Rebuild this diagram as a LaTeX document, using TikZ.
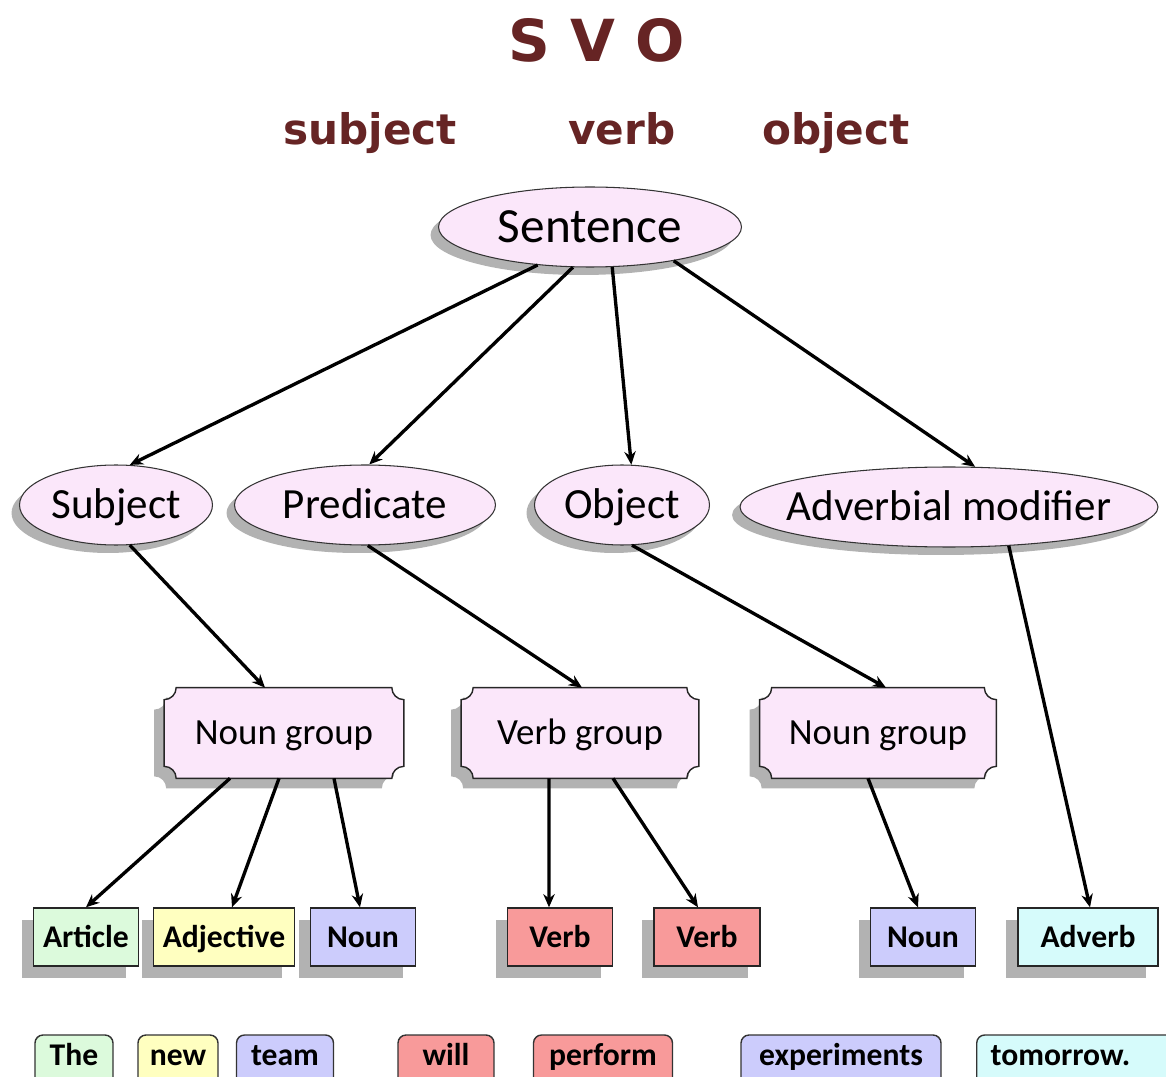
\documentclass[tikz,border=0pt]{standalone}
\usepackage{fontspec}
\setmainfont{Carlito}
\newfontfamily\svofont{DejaVu Sans}
\usetikzlibrary{arrows.meta,positioning,shapes.geometric,shadows,backgrounds}

\definecolor{titlered}{RGB}{102,36,36}
\definecolor{pinkfill}{RGB}{251,231,250}
\definecolor{shadowgray}{RGB}{178,178,178}
\definecolor{artgreen}{RGB}{220,250,220}
\definecolor{adjyellow}{RGB}{255,255,192}
\definecolor{nounblue}{RGB}{204,204,252}
\definecolor{verbred}{RGB}{248,154,154}
\definecolor{advcyan}{RGB}{214,251,251}

% frame of a group box with concave corners, shifted by (#2,#3)
\newcommand{\grouppath}[3]{%
  ([xshift=#2+0.24cm,yshift=#3]#1.north west) -- ([xshift=#2-0.24cm,yshift=#3]#1.north east)
  arc[start angle=180,end angle=270,radius=0.24cm]
  -- ([xshift=#2,yshift=#3+0.24cm]#1.south east)
  arc[start angle=90,end angle=180,radius=0.24cm]
  -- ([xshift=#2+0.24cm,yshift=#3]#1.south west)
  arc[start angle=0,end angle=90,radius=0.24cm]
  -- ([xshift=#2,yshift=#3-0.24cm]#1.north west)
  arc[start angle=270,end angle=360,radius=0.24cm] -- cycle}

\begin{document}
\begin{tikzpicture}[
    x=0.02cm, y=-0.02cm,
    title/.style = {text=titlered, anchor=base, font=\svofont\bfseries\fontsize{24}{28}\selectfont},
    ell/.style = {ellipse, draw=black!80, line width=0.6pt, fill=pinkfill, inner sep=0pt,
                  minimum height=1.6cm, text height=20pt, text depth=4.2pt,
                  font=\fontsize{24.5}{28}\selectfont,
                  drop shadow={shadow xshift=-0.16cm, shadow yshift=-0.16cm, fill=shadowgray, opacity=1}},
    grp/.style = {rectangle, inner sep=0pt, minimum height=1.8cm, text height=17pt, text depth=3.5pt,
                  font=\fontsize{21}{25}\selectfont},
    leaf/.style = {rectangle, draw=black!85, line width=0.8pt, inner sep=0pt,
                   minimum width=2.1cm, minimum height=1.16cm, text height=14pt, text depth=2.4pt,
                   font=\bfseries\fontsize{18}{22}\selectfont,
                   drop shadow={shadow xshift=-0.24cm, shadow yshift=-0.24cm, fill=shadowgray, opacity=1}},
    word/.style = {rectangle, rounded corners=0.16cm, draw=black!80, line width=0.8pt, inner sep=0pt,
                   minimum height=1.2cm, text height=13pt, text depth=13pt,
                   font=\bfseries\fontsize{18}{22}\selectfont},
    arrow/.style = {-{Stealth[length=7.5pt,width=6.5pt]}, line width=1.9pt}
]
\useasboundingbox (0,0) rectangle (1166,1077);

% Title
\node[title, font=\svofont\bfseries\fontsize{33}{38}\selectfont] (svo) at (597,62) {S V O};
\node[title] (tsubject) at (370,145) {subject};
\node[title] (tverb) at (622,145) {verb};
\node[title] (tobject) at (836,145) {object};

% Sentence level
\node[ell, minimum width=6.06cm, text height=22pt, text depth=4pt,
      font=\fontsize{28}{32}\selectfont] (sentence) at (590,227) {Sentence};

% Parts of the sentence
\node[ell, minimum width=3.86cm] (subject) at (116,505) {Subject};
\node[ell, minimum width=5.22cm] (predicate) at (365,505) {Predicate};
\node[ell, minimum width=3.5cm] (object) at (622,505) {Object};
\node[ell, minimum width=8.36cm] (advmod) at (949,507) {\makebox[0pt]{Adverbial modifier}};

% Groups
\node[grp, minimum width=4.78cm] (ng1) at (284,733) {Noun group};
\node[grp, minimum width=4.74cm] (vg) at (580,733) {Verb group};
\node[grp, minimum width=4.72cm] (ng2) at (878,733) {Noun group};

\begin{scope}[on background layer]
  \foreach \g in {ng1,vg,ng2} {
    \fill[shadowgray] \grouppath{\g}{-0.2cm}{-0.2cm};
    \filldraw[fill=pinkfill, draw=black!85, line width=0.8pt] \grouppath{\g}{0cm}{0cm};
  }
\end{scope}

% Word classes
\node[leaf, fill=artgreen] (article) at (86,937) {Article};
\node[leaf, fill=adjyellow, minimum width=2.82cm] (adjective) at (224,937) {Adjective};
\node[leaf, fill=nounblue] (noun1) at (363,937) {Noun};
\node[leaf, fill=verbred] (verb1) at (560,937) {Verb};
\node[leaf, fill=verbred, minimum width=2.12cm] (verb2) at (707,937) {Verb};
\node[leaf, fill=nounblue] (noun2) at (923,937) {Noun};
\node[leaf, fill=advcyan, minimum width=2.8cm] (adverb) at (1088,937) {Adverb};

% Words
\node[word, fill=artgreen, minimum width=1.56cm] (the) at (74,1065) {The};
\node[word, fill=adjyellow, minimum width=1.6cm] (new) at (178,1065) {new};
\node[word, fill=nounblue, minimum width=1.94cm] (team) at (285,1065) {team};
\node[word, fill=verbred, minimum width=1.92cm] (will) at (446,1065) {will};
\node[word, fill=verbred, minimum width=2.78cm] (perform) at (603,1065) {perform};
\node[word, fill=nounblue, minimum width=4cm] (experiments) at (841,1065) {experiments};
\node[word, fill=advcyan, anchor=west, inner xsep=0.28cm, text width=3.6cm, align=left] (tomorrow) at (976,1065) {tomorrow.};

% Arrows
\draw[arrow] (sentence.216) -- (subject.71);
\draw[arrow] (sentence.247) -- (predicate.84);
\draw[arrow] (sentence.299) -- (object.77);
\draw[arrow] (sentence.338) -- (advmod.57);

\draw[arrow] (subject.289) -- ([xshift=-0.38cm]ng1.north);
\draw[arrow] (predicate.274) -- ([xshift=0.04cm]vg.north);
\draw[arrow] (object.284) -- ([xshift=0.16cm]ng2.north);
\draw[arrow] (advmod.327) -- ([xshift=0.04cm]adverb.north);

\draw[arrow] ([xshift=-1.08cm]ng1.south) -- (article.north);
\draw[arrow] ([xshift=-0.1cm]ng1.south) -- ([xshift=0.16cm]adjective.north);
\draw[arrow] ([xshift=1cm]ng1.south) -- ([xshift=-0.06cm]noun1.north);
\draw[arrow] ([xshift=-0.62cm]vg.south) -- ([xshift=-0.22cm]verb1.north);
\draw[arrow] ([xshift=0.66cm]vg.south) -- ([xshift=-0.18cm]verb2.north);
\draw[arrow] ([xshift=-0.2cm]ng2.south) -- ([xshift=-0.1cm]noun2.north);

\end{tikzpicture}
\end{document}
